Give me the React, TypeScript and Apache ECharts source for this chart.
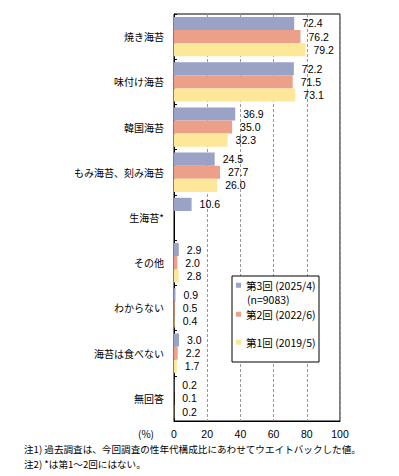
import React, { useEffect, useRef } from "react";
import * as echarts from "echarts";

const categories = [
  "焼き海苔",
  "味付け海苔",
  "韓国海苔",
  "もみ海苔、刻み海苔",
  "生海苔*",
  "その他",
  "わからない",
  "海苔は食べない",
  "無回答",
];

const seriesNames = ["第3回 (2025/4)", "第2回 (2022/6)", "第1回 (2019/5)"];

const round3 = [72.4, 72.2, 36.9, 24.5, 10.6, 2.9, 0.9, 3.0, 0.2];
const round2 = [76.2, 71.5, 35.0, 27.7, null, 2.0, 0.5, 2.2, 0.1];
const round1 = [79.2, 73.1, 32.3, 26.0, null, 2.8, 0.4, 1.7, 0.2];

const xTicks = [0, 20, 40, 60, 80, 100];

const colors = ["#9AA2C6", "#EC9F89", "#FDE798"];

const notes = [
  "注1) 過去調査は、今回調査の性年代構成比にあわせてウエイトバックした値。",
  "注2) *は第1～2回にはない。",
];

const FONT = "'Noto Sans CJK JP', 'Noto Sans', sans-serif";
const NUM_FONT = "'Liberation Sans', Arial, sans-serif";

export default function App() {
  const ref = useRef<HTMLDivElement>(null);

  useEffect(() => {
    if (!ref.current) return;
    const chart = echarts.init(ref.current, undefined, { renderer: "svg" });
    const allData = [round3, round2, round1];

    const legendTops = [280, 309, 337];

    const option: any = {
      animation: false,
      textStyle: { fontFamily: FONT, color: "#000" },
      grid: {
        left: 174,
        top: 14,
        width: 166,
        height: 407,
        show: true,
        borderColor: "#000",
        borderWidth: 1,
        containLabel: false,
      },
      xAxis: {
        type: "value",
        min: xTicks[0],
        max: xTicks[xTicks.length - 1],
        interval: 20,
        axisLine: { show: true, lineStyle: { color: "#000" } },
        axisTick: { show: false },
        axisLabel: { fontSize: 10.5, color: "#000", margin: 7, fontFamily: NUM_FONT },
        splitLine: {
          show: true,
          lineStyle: { color: "#999", type: [3, 2], width: 1 },
        },
      },
      yAxis: {
        type: "category",
        inverse: true,
        data: categories,
        axisLine: { show: true, lineStyle: { color: "#000" } },
        axisTick: { show: true, inside: true, length: 3, lineStyle: { color: "#000" } },
        axisLabel: { fontSize: 10, color: "#000", margin: 10, fontFamily: FONT },
      },
      legend: seriesNames.map((n, i) => ({
        data: [n],
        orient: "vertical",
        left: 236,
        top: legendTops[i],
        padding: 0,
        icon: "rect",
        itemWidth: 5,
        itemHeight: 5,
        selectedMode: false,
        z: 6,
        textStyle: { fontSize: 10.5, color: "#000", fontFamily: FONT },
      })),
      graphic: [
        {
          type: "rect",
          z: 3,
          shape: { x: 232, y: 276, width: 87, height: 86 },
          style: { fill: "#fff", stroke: "#000", lineWidth: 1 },
        },
        {
          type: "text",
          z: 6,
          x: 247,
          y: 299,
          style: {
            text: "(n=9083)",
            fontSize: 10.5,
            fontFamily: FONT,
            fill: "#000",
            verticalAlign: "middle",
          },
        },
        {
          type: "text",
          x: 146,
          y: 433,
          style: {
            text: "(%)",
            fontSize: 10,
            fontFamily: FONT,
            fill: "#000",
            align: "center",
            verticalAlign: "middle",
          },
        },
        ...notes.map((t, i) => ({
          type: "text",
          x: 24,
          y: 449 + i * 14.5,
          style: {
            text: t,
            fontSize: 9.6,
            fontFamily: FONT,
            fill: "#000",
            verticalAlign: "middle",
          },
        })),
      ],
      series: seriesNames.map((name, i) => ({
        name,
        type: "bar",
        data: allData[i],
        barGap: "0%",
        barCategoryGap: "13%",
        itemStyle: { color: colors[i] },
        label: {
          show: true,
          position: "right",
          distance: 8,
          fontSize: 10.5,
          lineHeight: 12,
          color: "#000",
          fontFamily: NUM_FONT,
          formatter: (p: any) =>
            p.value == null ? "" : Number(p.value).toFixed(1),
        },
      })),
    };

    chart.setOption(option);
    return () => chart.dispose();
  }, []);

  return (
    <div
      ref={ref}
      style={{ position: "fixed", left: 0, top: 0, width: 399, height: 476, background: "#fff" }}
    />
  );
}
